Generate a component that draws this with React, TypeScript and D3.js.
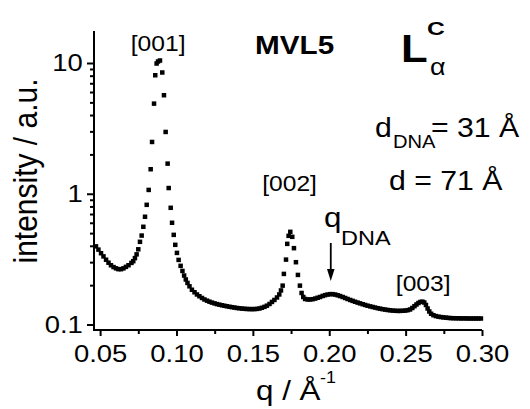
import { useEffect, useRef } from 'react'
import * as d3 from 'd3'

// [q (1/Å), intensity (a.u.)]
const scattering: [number, number][] = [
  [0.0473, 0.396], [0.0489, 0.374], [0.0506, 0.351], [0.0522, 0.332], [0.0539, 0.313],
  [0.0555, 0.297], [0.0571, 0.284], [0.0588, 0.275], [0.0604, 0.269], [0.0620, 0.265],
  [0.0637, 0.265], [0.0653, 0.269], [0.0669, 0.276], [0.0686, 0.284], [0.0705, 0.296],
  [0.0717, 0.305], [0.0728, 0.322], [0.0739, 0.344], [0.0750, 0.376], [0.0761, 0.429],
  [0.0772, 0.479], [0.0783, 0.559], [0.0794, 0.667], [0.0805, 0.823], [0.0818, 1.07],
  [0.0831, 1.54], [0.0840, 2.49], [0.0853, 4.89], [0.0861, 8.06], [0.0870, 9.91],
  [0.0879, 10.27], [0.0892, 10.45], [0.0907, 8.46], [0.0918, 5.67], [0.0929, 2.97],
  [0.0942, 1.70], [0.0949, 1.106], [0.0962, 0.781], [0.0971, 0.600], [0.0982, 0.485],
  [0.0992, 0.407], [0.1003, 0.353], [0.1014, 0.312], [0.1027, 0.281], [0.1039, 0.257],
  [0.1050, 0.237], [0.1061, 0.221], [0.1072, 0.208], [0.1085, 0.196], [0.1101, 0.1845],
  [0.1118, 0.1765], [0.1134, 0.1698], [0.1150, 0.1645], [0.1167, 0.1596], [0.1183, 0.1554],
  [0.1200, 0.1522], [0.1216, 0.1495], [0.1232, 0.1471], [0.1249, 0.1451], [0.1265, 0.1433],
  [0.1281, 0.1418], [0.1298, 0.1403], [0.1314, 0.1391], [0.1330, 0.1379], [0.1347, 0.1367],
  [0.1363, 0.1357], [0.1379, 0.1348], [0.1396, 0.1338], [0.1412, 0.1331], [0.1429, 0.1324],
  [0.1445, 0.1319], [0.1461, 0.1315], [0.1478, 0.1312], [0.1494, 0.1312], [0.1510, 0.1312],
  [0.1527, 0.1317], [0.1543, 0.1326], [0.1559, 0.1343], [0.1576, 0.1365], [0.1592, 0.1393],
  [0.1609, 0.1436], [0.1625, 0.1488], [0.1641, 0.1541], [0.1658, 0.1610], [0.1673, 0.1698],
  [0.1684, 0.1822], [0.1695, 0.1983], [0.1703, 0.2438], [0.1717, 0.3136], [0.1725, 0.4139],
  [0.1734, 0.4767], [0.1745, 0.5114], [0.1758, 0.4684], [0.1769, 0.3837], [0.1782, 0.2996],
  [0.1795, 0.2395], [0.1808, 0.1983], [0.1819, 0.1743], [0.1830, 0.1624], [0.1842, 0.1568],
  [0.1859, 0.1554], [0.1875, 0.1554], [0.1891, 0.1562], [0.1908, 0.1579], [0.1924, 0.1602],
  [0.1940, 0.1624], [0.1957, 0.1654], [0.1973, 0.1677], [0.1989, 0.1695], [0.2006, 0.1707],
  [0.2022, 0.1707], [0.2039, 0.1695], [0.2055, 0.1674], [0.2071, 0.1651], [0.2088, 0.1624],
  [0.2104, 0.1596], [0.2120, 0.1568], [0.2137, 0.1541], [0.2153, 0.1517], [0.2169, 0.1493],
  [0.2186, 0.1471], [0.2202, 0.1451], [0.2219, 0.1430], [0.2235, 0.1411], [0.2251, 0.1393],
  [0.2268, 0.1376], [0.2284, 0.1362], [0.2300, 0.1348], [0.2317, 0.1333], [0.2333, 0.1322],
  [0.2349, 0.1310], [0.2366, 0.1301], [0.2382, 0.1292], [0.2398, 0.1285], [0.2415, 0.1278],
  [0.2431, 0.1274], [0.2448, 0.1271], [0.2464, 0.1271], [0.2480, 0.1274], [0.2497, 0.1278],
  [0.2513, 0.1287], [0.2529, 0.1303], [0.2544, 0.1338], [0.2558, 0.1381], [0.2571, 0.1423],
  [0.2584, 0.1461], [0.2597, 0.1488], [0.2610, 0.1495], [0.2622, 0.1474], [0.2633, 0.1411],
  [0.2644, 0.1326], [0.2655, 0.1258], [0.2667, 0.1208], [0.2682, 0.1178], [0.2698, 0.1160],
  [0.2715, 0.1148], [0.2731, 0.1140], [0.2747, 0.1134], [0.2764, 0.1128], [0.2780, 0.1124],
  [0.2796, 0.1119], [0.2813, 0.1118], [0.2829, 0.1116], [0.2846, 0.1116], [0.2862, 0.1114],
  [0.2878, 0.1114], [0.2895, 0.1114], [0.2911, 0.1112], [0.2927, 0.1112], [0.2944, 0.1112],
  [0.2960, 0.1112], [0.2976, 0.1112], [0.2993, 0.1112],
]

const xTicks = [0.05, 0.1, 0.15, 0.2, 0.25, 0.3]
const xTickLabels = ['0.05', '0.10', '0.15', '0.20', '0.25', '0.30']
const xMinorTicks = [0.075, 0.125, 0.175, 0.225, 0.275]
const yTicks = [0.1, 1, 10]
const yTickLabels = ['0.1', '1', '10']
const yMinorTicks = [0.2, 0.3, 0.4, 0.5, 0.6, 0.7, 0.8, 0.9, 2, 3, 4, 5, 6, 7, 8, 9]
const peakNames = ['[001]', '[002]', '[003]']
const peakQ = [0.088, 0.174, 0.2615]
const qDna = 0.201

const FONT = '"Liberation Sans", Arial, Helvetica, sans-serif'
const SX = 1.12 // glyphs in the figure are a bit wider than Arial

export default function App() {
  const ref = useRef<SVGSVGElement>(null)

  useEffect(() => {
    const svg = d3.select(ref.current)
    svg.selectAll('*').remove()

    const x = d3.scaleLinear().domain([0.046, 0.3]).range([94, 482])
    const y = d3.scaleLog().domain([0.0908, 17.57]).range([330, 31])

    // data points (small filled squares)
    const sq = 4.5
    svg
      .append('g')
      .selectAll('rect')
      .data(scattering)
      .enter()
      .append('rect')
      .attr('x', (d) => x(d[0]) - sq / 2)
      .attr('y', (d) => y(d[1]) - sq / 2)
      .attr('width', sq)
      .attr('height', sq)
      .attr('fill', '#000')

    // x axis
    const gx = svg
      .append('g')
      .attr('transform', 'translate(0,330)')
      .call(
        d3
          .axisBottom(x)
          .tickValues(xTicks)
          .tickFormat((d, i) => xTickLabels[i])
          .tickSize(6)
          .tickSizeOuter(0)
          .tickPadding(9),
      )
    const gxm = svg
      .append('g')
      .attr('transform', 'translate(0,330)')
      .call(d3.axisBottom(x).tickValues(xMinorTicks).tickFormat(() => '').tickSize(4).tickSizeOuter(0))

    // y axis
    const gy = svg
      .append('g')
      .attr('transform', 'translate(94,0)')
      .call(
        d3
          .axisLeft(y)
          .tickValues(yTicks)
          .tickFormat((d, i) => yTickLabels[i])
          .tickSize(7)
          .tickSizeOuter(0)
          .tickPadding(3),
      )
    const gym = svg
      .append('g')
      .attr('transform', 'translate(94,0)')
      .call(d3.axisLeft(y).tickValues(yMinorTicks).tickFormat(() => '').tickSize(4).tickSizeOuter(0))

    ;[gx, gxm, gy, gym].forEach((g) => {
      g.select('.domain').remove()
      g.selectAll('line').attr('stroke', '#000').attr('stroke-width', 2)
      g.selectAll('text')
        .attr('fill', '#000')
        .attr('font-size', 24.5)
        .attr('font-family', FONT)
        .attr('transform', `scale(${SX},1)`)
    })

    const [x0, x1] = x.range()
    const [y0, y1] = y.range()
    svg.append('line').attr('x1', x0 - 1).attr('x2', x1).attr('y1', y0).attr('y2', y0)
      .attr('stroke', '#000').attr('stroke-width', 2)
    svg.append('line').attr('x1', x0).attr('x2', x0).attr('y1', y0 + 1).attr('y2', y1)
      .attr('stroke', '#000').attr('stroke-width', 2)

    // peak labels
    const peakY = [51, 191, 291]
    peakNames.forEach((name, i) => {
      svg
        .append('text')
        .attr('transform', `translate(${x(peakQ[i])},${peakY[i]}) scale(${SX},1)`)
        .attr('text-anchor', 'middle')
        .attr('font-size', 22)
        .attr('font-family', FONT)
        .text(name)
    })

    // q_DNA arrow
    const ax = x(qDna)
    svg.append('line').attr('x1', ax).attr('x2', ax).attr('y1', 243).attr('y2', 272)
      .attr('stroke', '#000').attr('stroke-width', 1.8)
    svg.append('path')
      .attr('d', `M${ax - 3.8},269 L${ax + 3.8},269 L${ax},281 Z`)
      .attr('fill', '#000')
  }, [])

  const t = (x: number, y: number, s = SX) => `translate(${x},${y}) scale(${s},1)`

  return (
    <div style={{ position: 'absolute', left: 0, top: 0 }}>
      <svg ref={ref} width={530} height={409} style={{ display: 'block', position: 'absolute', left: 0, top: 0 }} />
      <svg width={530} height={409} style={{ display: 'block' }} fontFamily={FONT} fill="#000">
        <text transform={t(255, 54)} fontSize={26.5} fontWeight="bold">MVL5</text>
        <text transform={t(401, 62)} fontSize={39} fontWeight="bold">L</text>
        <text transform={t(427, 35, 1.3)} fontSize={19} fontWeight="bold">C</text>
        <text transform={t(430, 75)} fontSize={24}>α</text>

        <text transform={t(375, 137)} fontSize={27}>d</text>
        <text transform={t(393, 148)} fontSize={18}>DNA</text>
        <text transform={t(431, 137)} fontSize={27}>= 31 Å</text>
        <text transform={t(389, 190)} fontSize={27}>d = 71 Å</text>

        <text transform={t(324, 227)} fontSize={28}>q</text>
        <text transform={t(341, 245)} fontSize={21}>DNA</text>

        <text transform="translate(37,171) rotate(-90) scale(1,1.12)" fontSize={30} textAnchor="middle">
          intensity / a.u.
        </text>
        <text transform={t(256, 400)} fontSize={28}>q / Å</text>
        <text transform={t(320, 383)} fontSize={16}>-1</text>
      </svg>
    </div>
  )
}
